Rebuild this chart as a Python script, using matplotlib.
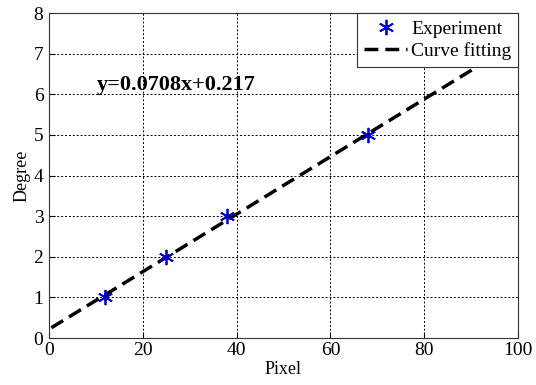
import numpy as np
import matplotlib
matplotlib.use("Agg")
import matplotlib.pyplot as plt

# measured points
pixel = [12, 25, 38, 68]
degree = [1, 2, 3, 5]

# fitted line y = 0.0708x + 0.217
slope = 0.0708
intercept = 0.217
fit_x = [0.5, 100]

x_ticks = [0, 20, 40, 60, 80, 100]
y_ticks = [0, 1, 2, 3, 4, 5, 6, 7, 8]

plt.rcParams["font.family"] = ["Liberation Serif", "DejaVu Serif"]

fig = plt.figure(figsize=(5.36, 3.85), dpi=100)
ax = fig.add_axes([0.0914, 0.122, 0.875, 0.844])

fx = np.array(fit_x)
ax.plot(pixel, degree, linestyle="none", marker=(6, 2, 0), markersize=11,
        markeredgewidth=1.3, color="#0000cc", label="Experiment", zorder=3)
ax.plot(fx, slope * fx + intercept, "k--", linewidth=2.5, dashes=(4, 2),
        label="Curve fitting", zorder=2)

ax.set_xlim(0, 100)
ax.set_ylim(0, 8)
ax.set_xticks(x_ticks)
ax.set_yticks(y_ticks)
ax.tick_params(direction="in", labelsize=14, length=4)
ax.tick_params(axis="x", pad=3)
ax.tick_params(axis="y", pad=4)
ax.grid(True, linestyle=(0, (2, 2)), color="black", linewidth=0.7)
for s in ax.spines.values():
    s.set_color("#333333")
ax.set_xlabel("Pixel", fontsize=13, labelpad=1)
ax.set_ylabel("Degree", fontsize=13, labelpad=2)

ax.text(10.2, 6.23, "y=0.0708x+0.217", fontsize=16, fontweight="bold", va="center")

leg = ax.legend(loc="upper right", fontsize=14, frameon=True, fancybox=False,
                framealpha=1, edgecolor="#333333", borderaxespad=0,
                handlelength=2.2, handletextpad=0.2, borderpad=0.35,
                labelspacing=0.25)
leg.get_frame().set_linewidth(0.8)
leg.set_zorder(5)

fig.savefig("out.png", dpi=100)
